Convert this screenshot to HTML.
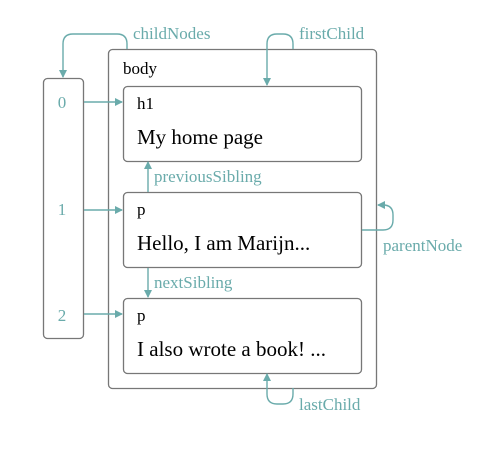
<!DOCTYPE html>
<html><head><style>body{margin:0;background:#fff}</style></head><body>
<svg width="481" height="446" xmlns="http://www.w3.org/2000/svg" font-family="Liberation Serif, serif">
<defs><marker id="a" markerWidth="8" markerHeight="8" refX="7" refY="4" orient="auto" markerUnits="userSpaceOnUse"><path d="M0,0 L8,4 L0,8 z" fill="#6aabab"/></marker></defs>
<g fill="none" stroke="#777" stroke-width="1.3">
<rect x="108.5" y="49.5" width="268" height="339" rx="4"/>
<rect x="43.5" y="78.5" width="40" height="260" rx="4"/>
<rect x="123.5" y="86.5" width="238" height="75" rx="4"/>
<rect x="123.5" y="192.5" width="238" height="75" rx="4"/>
<rect x="123.5" y="298.5" width="238" height="75" rx="4"/>
</g>
<g fill="none" stroke="#6aabab" stroke-width="1.4">
<path d="M127,49 V44 Q127,34 117,34 H73 Q63,34 63,44 V77" marker-end="url(#a)"/>
<path d="M293,49 V44 Q293,34 283,34 H277 Q267,34 267,44 V85" marker-end="url(#a)"/>
<path d="M362,230 H383 Q393,230 393,220 V215 Q393,205 383,205 H378" marker-end="url(#a)"/>
<path d="M293,388 V394 Q293,404 283,404 H277 Q267,404 267,394 V374" marker-end="url(#a)"/>
<path d="M148,192 V162" marker-end="url(#a)"/>
<path d="M148,268 V297" marker-end="url(#a)"/>
<path d="M84,102 H122" marker-end="url(#a)"/>
<path d="M84,210 H122" marker-end="url(#a)"/>
<path d="M84,314 H122" marker-end="url(#a)"/>
</g>
<g fill="#6aabab" font-size="17">
<text x="133" y="39">childNodes</text>
<text x="299" y="39">firstChild</text>
<text x="154" y="182">previousSibling</text>
<text x="154" y="288">nextSibling</text>
<text x="383" y="251">parentNode</text>
<text x="299" y="410">lastChild</text>
<text x="62" y="108" text-anchor="middle">0</text>
<text x="62" y="215" text-anchor="middle">1</text>
<text x="62" y="321" text-anchor="middle">2</text>
</g>
<g fill="#000">
<text x="123" y="74" font-size="17">body</text>
<text x="137" y="109" font-size="17">h1</text>
<text x="137" y="144" font-size="21">My home page</text>
<text x="137" y="215" font-size="17">p</text>
<text x="137" y="250" font-size="21">Hello, I am Marijn...</text>
<text x="137" y="321" font-size="17">p</text>
<text x="137" y="356" font-size="21">I also wrote a book! ...</text>
</g>
</svg>
</body></html>
